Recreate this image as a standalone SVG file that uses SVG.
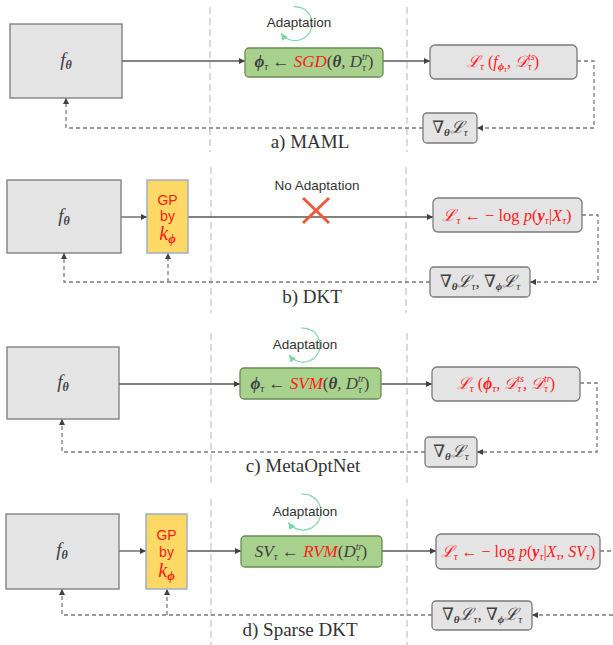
<svg xmlns="http://www.w3.org/2000/svg" width="613" height="645" viewBox="0 0 613 645">
<defs>
<marker id="ah" viewBox="0 0 8 8" refX="8" refY="4" markerWidth="6" markerHeight="6" markerUnits="userSpaceOnUse" orient="auto"><path d="M0,0 L8,4 L0,8 z" fill="#404040"/></marker>
<marker id="ag" viewBox="0 0 8 8" refX="8" refY="4" markerWidth="7" markerHeight="7" markerUnits="userSpaceOnUse" orient="auto"><path d="M0,0 L8,4 L0,8 z" fill="#7fd6a9"/></marker>
<style>
.fb{fill:#e4e4e4;stroke:#7a7a7a;stroke-width:1.3}
.gb{fill:#a9d18e;stroke:#6a8a55;stroke-width:1.3}
.gp{fill:#ffd966;stroke:#8fa6c8;stroke-width:1.3}
.sl{stroke:#595959;stroke-width:1.3;fill:none}
.dl{stroke:#7a7a7a;stroke-width:1.3;fill:none;stroke-dasharray:4 3}
.vl{stroke:#c8c8c8;stroke-width:1.3;fill:none;stroke-dasharray:7 4}
.arc{stroke:#7fd6a9;stroke-width:1.2;fill:none}
.m{font-family:"Liberation Serif","DejaVu Serif",serif;font-style:italic;fill:#404040}
.u{font-style:normal}
.b{font-weight:bold}
.s{font-family:"Liberation Sans","DejaVu Sans",sans-serif;fill:#333}
.cap{font-family:"Liberation Serif",serif;font-size:19px;fill:#333}
.x{stroke:#ef5b3a;stroke-width:3}
.r{fill:#ff1a1a}
</style>
</defs>

<g id="separators">
<line class="vl" x1="210" y1="7" x2="210" y2="152"/><line class="vl" x1="407" y1="7" x2="407" y2="152"/>
<line class="vl" x1="211" y1="167" x2="211" y2="313"/><line class="vl" x1="406" y1="167" x2="406" y2="313"/>
<line class="vl" x1="211" y1="333" x2="211" y2="483"/><line class="vl" x1="407" y1="333" x2="407" y2="483"/>
<line class="vl" x1="211" y1="499" x2="211" y2="645"/><line class="vl" x1="407" y1="499" x2="407" y2="645"/>
</g>

<g id="connectors">
<!-- a -->
<line class="sl" x1="122" y1="61" x2="245" y2="61" marker-end="url(#ah)"/>
<line class="sl" x1="383" y1="61" x2="430" y2="61" marker-end="url(#ah)"/>
<path class="dl" d="M577,61 H594 V128 H477" marker-end="url(#ah)"/>
<path class="dl" d="M423,128 H66 V98" marker-end="url(#ah)"/>
<!-- b -->
<line class="sl" x1="121" y1="217" x2="147" y2="217" marker-end="url(#ah)"/>
<line class="sl" x1="188" y1="217" x2="433" y2="217" marker-end="url(#ah)"/>
<path class="dl" d="M582,215 H598 V282 H530" marker-end="url(#ah)"/>
<path class="dl" d="M430,282 H64 V253" marker-end="url(#ah)"/>
<path class="dl" d="M168,282 V253" marker-end="url(#ah)"/>
<!-- c -->
<line class="sl" x1="119" y1="384" x2="240" y2="384" marker-end="url(#ah)"/>
<line class="sl" x1="381" y1="384" x2="432" y2="384" marker-end="url(#ah)"/>
<path class="dl" d="M580,383 H597 V452 H477" marker-end="url(#ah)"/>
<path class="dl" d="M425,452 H62 V419" marker-end="url(#ah)"/>
<!-- d -->
<line class="sl" x1="119" y1="551" x2="146" y2="551" marker-end="url(#ah)"/>
<line class="sl" x1="187" y1="551" x2="241" y2="551" marker-end="url(#ah)"/>
<line class="sl" x1="382" y1="551" x2="436" y2="551" marker-end="url(#ah)"/>
<path class="dl" d="M600,551 H613"/>
<path class="dl" d="M613,615 H532" marker-end="url(#ah)"/>
<path class="dl" d="M432,615 H62 V589" marker-end="url(#ah)"/>
<path class="dl" d="M167,615 V589" marker-end="url(#ah)"/>
</g>

<!-- Panel a -->
<g id="a-f"><rect class="fb" x="10" y="24" width="112" height="74"/>
<text class="m" x="66" y="66" font-size="19" text-anchor="middle">f<tspan class="b" font-size="12" dy="3">θ</tspan></text></g>
<g id="a-adapt"><path class="arc" d="M293.5,6.6 A17,17 0 1 1 281.1,33.3" marker-end="url(#ag)"/>
<text class="s" x="299" y="27" font-size="13.5" text-anchor="middle">Adaptation</text></g>
<g id="a-sgd"><rect class="gb" x="245" y="48" width="138" height="29" rx="4"/>
<text class="m" x="314" y="67" font-size="17" text-anchor="middle"><tspan class="b">ϕ</tspan><tspan font-size="11" dy="3">τ</tspan><tspan class="u" dy="-3"> ← </tspan><tspan class="r">SGD</tspan><tspan class="u">(</tspan><tspan class="b">θ</tspan>, D<tspan font-size="10" dy="-7">tr</tspan><tspan font-size="10" dx="-6.5" dy="11">τ</tspan><tspan class="u" dx="2" dy="-4">)</tspan></text></g>
<g id="a-loss"><rect class="fb" x="430" y="45" width="147" height="34" rx="5"/>
<text class="m r" x="503" y="67" font-size="16" text-anchor="middle">ℒ<tspan font-size="11" dy="3">τ</tspan><tspan class="u" dy="-3"> (</tspan>f<tspan class="b" font-size="11" dy="3">ϕ</tspan><tspan font-size="8" dy="2">τ</tspan><tspan dy="-5">, 𝒟</tspan><tspan font-size="10" dy="-7">ts</tspan><tspan font-size="10" dx="-6.5" dy="10">τ</tspan><tspan class="u" dx="2" dy="-3">)</tspan></text></g>
<g id="a-grad"><rect class="fb" x="423" y="113" width="54" height="30" rx="4"/>
<text class="m" x="450" y="133" font-size="17" text-anchor="middle"><tspan class="u">∇</tspan><tspan class="b" font-size="11" dy="3">θ</tspan><tspan dy="-3">ℒ</tspan><tspan font-size="11" dy="3">τ</tspan></text></g>
<text id="a-cap" class="cap" x="310" y="148" text-anchor="middle">a) MAML</text>

<!-- Panel b -->
<g id="b-f"><rect class="fb" x="7" y="180" width="114" height="73"/>
<text class="m" x="64" y="222" font-size="19" text-anchor="middle">f<tspan class="b" font-size="12" dy="3">θ</tspan></text></g>
<g id="b-gp"><rect class="gp" x="147" y="180" width="41" height="73"/>
<text class="s r" x="167.5" y="205" font-size="14" text-anchor="middle">GP</text>
<text class="s r" x="167.5" y="221" font-size="14" text-anchor="middle">by</text>
<text class="m r" x="167.5" y="240" font-size="20" text-anchor="middle">k<tspan class="b" font-size="13" dy="3">ϕ</tspan></text></g>
<g id="b-noadapt"><text class="s" x="317" y="190" font-size="13.5" text-anchor="middle">No Adaptation</text>
<line class="x" x1="303" y1="198" x2="329" y2="223"/><line class="x" x1="329" y1="198" x2="303" y2="223"/></g>
<g id="b-loss"><rect class="fb" x="433" y="198" width="149" height="34" rx="5"/>
<text class="m r" x="507" y="221" font-size="16.5" text-anchor="middle">ℒ<tspan font-size="11" dy="3">τ</tspan><tspan class="u" dy="-3"> ← − log </tspan>p<tspan class="u">(</tspan><tspan class="b">y</tspan><tspan font-size="11" dy="3">τ</tspan><tspan class="u" dy="-3">|</tspan>X<tspan font-size="11" dy="3">τ</tspan><tspan class="u" dy="-3">)</tspan></text></g>
<g id="b-grad"><rect class="fb" x="430" y="267" width="100" height="30" rx="4"/>
<text class="m" x="480" y="287" font-size="17" text-anchor="middle"><tspan class="u">∇</tspan><tspan class="b" font-size="11" dy="3">θ</tspan><tspan dy="-3">ℒ</tspan><tspan font-size="11" dy="3">τ</tspan><tspan dy="-3">, </tspan><tspan class="u">∇</tspan><tspan class="b" font-size="11" dy="3">ϕ</tspan><tspan dy="-3">ℒ</tspan><tspan font-size="11" dy="3">τ</tspan></text></g>
<text id="b-cap" class="cap" x="312" y="303" text-anchor="middle">b) DKT</text>

<!-- Panel c -->
<g id="c-f"><rect class="fb" x="7" y="347" width="112" height="72"/>
<text class="m" x="63" y="388" font-size="19" text-anchor="middle">f<tspan class="b" font-size="12" dy="3">θ</tspan></text></g>
<g id="c-adapt"><path class="arc" d="M301.5,328.1 A17,17 0 1 1 289.1,354.8" marker-end="url(#ag)"/>
<text class="s" x="305" y="349" font-size="13.5" text-anchor="middle">Adaptation</text></g>
<g id="c-svm"><rect class="gb" x="240" y="368" width="141" height="31" rx="4"/>
<text class="m" x="310" y="389" font-size="17" text-anchor="middle"><tspan class="b">ϕ</tspan><tspan font-size="11" dy="3">τ</tspan><tspan class="u" dy="-3"> ← </tspan><tspan class="r">SVM</tspan><tspan class="u">(</tspan><tspan class="b">θ</tspan>, D<tspan font-size="10" dy="-7">tr</tspan><tspan font-size="10" dx="-6.5" dy="11">τ</tspan><tspan class="u" dx="2" dy="-4">)</tspan></text></g>
<g id="c-loss"><rect class="fb" x="432" y="367" width="148" height="34" rx="5"/>
<text class="m r" x="506" y="389" font-size="16" text-anchor="middle">ℒ<tspan font-size="11" dy="3">τ</tspan><tspan class="u" dy="-3"> (</tspan><tspan class="b">ϕ</tspan><tspan font-size="11" dy="3">τ</tspan><tspan dy="-3">, 𝒟</tspan><tspan font-size="10" dy="-7">ts</tspan><tspan font-size="10" dx="-6.5" dy="10">τ</tspan><tspan dx="2" dy="-3">, 𝒟</tspan><tspan font-size="10" dy="-7">tr</tspan><tspan font-size="10" dx="-6.5" dy="10">τ</tspan><tspan class="u" dx="2" dy="-3">)</tspan></text></g>
<g id="c-grad"><rect class="fb" x="425" y="437" width="52" height="30" rx="4"/>
<text class="m" x="451" y="457" font-size="17" text-anchor="middle"><tspan class="u">∇</tspan><tspan class="b" font-size="11" dy="3">θ</tspan><tspan dy="-3">ℒ</tspan><tspan font-size="11" dy="3">τ</tspan></text></g>
<text id="c-cap" class="cap" x="303" y="472" text-anchor="middle">c) MetaOptNet</text>

<!-- Panel d -->
<g id="d-f"><rect class="fb" x="6" y="514" width="113" height="75"/>
<text class="m" x="62" y="556" font-size="19" text-anchor="middle">f<tspan class="b" font-size="12" dy="3">θ</tspan></text></g>
<g id="d-gp"><rect class="gp" x="146" y="514" width="41" height="75"/>
<text class="s r" x="166.5" y="540" font-size="14" text-anchor="middle">GP</text>
<text class="s r" x="166.5" y="557" font-size="14" text-anchor="middle">by</text>
<text class="m r" x="166.5" y="577" font-size="20" text-anchor="middle">k<tspan class="b" font-size="13" dy="3">ϕ</tspan></text></g>
<g id="d-adapt"><path class="arc" d="M301.4,494.1 A18,18 0 1 1 288.3,522.3" marker-end="url(#ag)"/>
<text class="s" x="305" y="516" font-size="13.5" text-anchor="middle">Adaptation</text></g>
<g id="d-rvm"><rect class="gb" x="241" y="536" width="141" height="31" rx="4"/>
<text class="m" x="311" y="557" font-size="17" text-anchor="middle">SV<tspan font-size="11" dy="3">τ</tspan><tspan class="u" dy="-3"> ← </tspan><tspan class="r">RVM</tspan><tspan class="u">(</tspan>D<tspan font-size="10" dy="-7">tr</tspan><tspan font-size="10" dx="-6.5" dy="11">τ</tspan><tspan class="u" dx="2" dy="-4">)</tspan></text></g>
<g id="d-loss"><rect class="fb" x="436" y="534" width="164" height="35" rx="5"/>
<text class="m r" x="518" y="557" font-size="16" text-anchor="middle">ℒ<tspan font-size="11" dy="3">τ</tspan><tspan class="u" dy="-3"> ← − log </tspan>p<tspan class="u">(</tspan><tspan class="b">y</tspan><tspan font-size="11" dy="3">τ</tspan><tspan class="u" dy="-3">|</tspan>X<tspan font-size="11" dy="3">τ</tspan><tspan dy="-3">, SV</tspan><tspan font-size="11" dy="3">τ</tspan><tspan class="u" dy="-3">)</tspan></text></g>
<g id="d-grad"><rect class="fb" x="432" y="601" width="100" height="29" rx="4"/>
<text class="m" x="482" y="620" font-size="17" text-anchor="middle"><tspan class="u">∇</tspan><tspan class="b" font-size="11" dy="3">θ</tspan><tspan dy="-3">ℒ</tspan><tspan font-size="11" dy="3">τ</tspan><tspan dy="-3">, </tspan><tspan class="u">∇</tspan><tspan class="b" font-size="11" dy="3">ϕ</tspan><tspan dy="-3">ℒ</tspan><tspan font-size="11" dy="3">τ</tspan></text></g>
<text id="d-cap" class="cap" x="300" y="636" text-anchor="middle">d) Sparse DKT</text>
</svg>
